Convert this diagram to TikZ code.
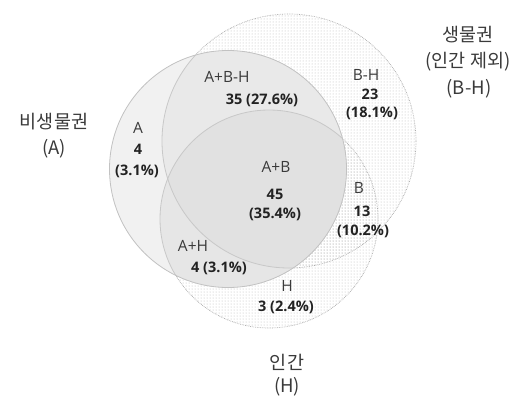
\documentclass[tikz,border=0pt]{standalone}
\usepackage{fontspec}
\setmainfont{Open Sans}
\newfontfamily\kr{Noto Sans CJK KR}
\usetikzlibrary{patterns}
\definecolor{txt}{HTML}{3A3A3A}
\definecolor{num}{HTML}{222222}
\definecolor{edgeA}{HTML}{C2C2C2}
\definecolor{edgeIn}{HTML}{C8C8C8}
\definecolor{edgeOut}{HTML}{ABABAB}
\definecolor{fillA}{HTML}{F1F1F1}
\definecolor{fillAB}{HTML}{E9E9E9}
\definecolor{fillAH}{HTML}{E6E6E6}
\definecolor{fillABH}{HTML}{E1E1E1}
\tikzset{
  lab/.style={font=\fontsize{15.5}{18}\selectfont, text=txt, inner sep=0pt},
  val/.style={font=\fontsize{14.5}{17}\selectfont\bfseries, text=num, inner sep=0pt},
  krlab/.style={font=\kr\fontsize{18.5}{22}\selectfont, text=txt, inner sep=0pt},
}
\newcommand{\circA}{(228,169) circle (118.5pt)}
\newcommand{\circB}{(289,141) circle (127pt)}
\newcommand{\circH}{(269,219) circle (109pt)}
\begin{document}
\begin{tikzpicture}[x=1pt,y=-1pt]
\useasboundingbox (0,0) rectangle (530,397);
\fill[white] (0,0) rectangle (530,397);
% dotted fill for B and H
\fill[pattern=dots, pattern color=gray!55] \circB;
\fill[pattern=dots, pattern color=gray!55] \circH;
\draw[edgeOut, densely dotted, line width=0.7pt] \circB;
\draw[edgeOut, densely dotted, line width=0.7pt] \circH;
% A and its overlaps
\fill[fillA] \circA;
\begin{scope}
  \clip \circA;
  \fill[fillAB] \circB;
  \fill[fillAH] \circH;
  \clip \circB;
  \fill[fillABH] \circH;
\end{scope}
\begin{scope}
  \clip \circA;
  \draw[edgeIn, line width=0.8pt] \circB;
  \draw[edgeIn, line width=0.8pt] \circH;
\end{scope}
\draw[edgeA, line width=0.8pt] \circA;
% region labels
\node[lab] (aL) at (138,128) {A};
\node[val] (aN) at (138,149) {4};
\node[val] (aP) at (137,171) {(3.1\%)};
\node[lab] (abhL) at (227,77) {A+B-H};
\node[val] (abhN) at (262,100) {35 (27.6\%)};
\node[lab] (bhL) at (366,75) {B-H};
\node[val] (bhN) at (370,94) {23};
\node[val] (bhP) at (372,113) {(18.1\%)};
\node[lab] (abL) at (276,167) {A+B};
\node[val] (abN) at (275,194) {45};
\node[val] (abP) at (275,214) {(35.4\%)};
\node[lab] (bL) at (359,188) {B};
\node[val] (bN) at (362,211) {13};
\node[val] (bP) at (363,231) {(10.2\%)};
\node[lab] (ahL) at (193,246) {A+H};
\node[val] (ahN) at (219,268) {4 (3.1\%)};
\node[lab] (hL) at (287,286) {H};
\node[val] (hN) at (286,307) {3 (2.4\%)};
% set labels
\node[krlab] (setA1) at (54,122) {비생물권};
\node[krlab] (setA2) at (54,149) {(A)};
\node[krlab] (setB1) at (468,35) {생물권};
\node[krlab] (setB2) at (468,62) {(인간 제외)};
\node[krlab] (setB3) at (469,89) {(B-H)};
\node[krlab] (setH1) at (287,362) {인간};
\node[krlab] (setH2) at (287,387) {(H)};
\end{tikzpicture}
\end{document}
